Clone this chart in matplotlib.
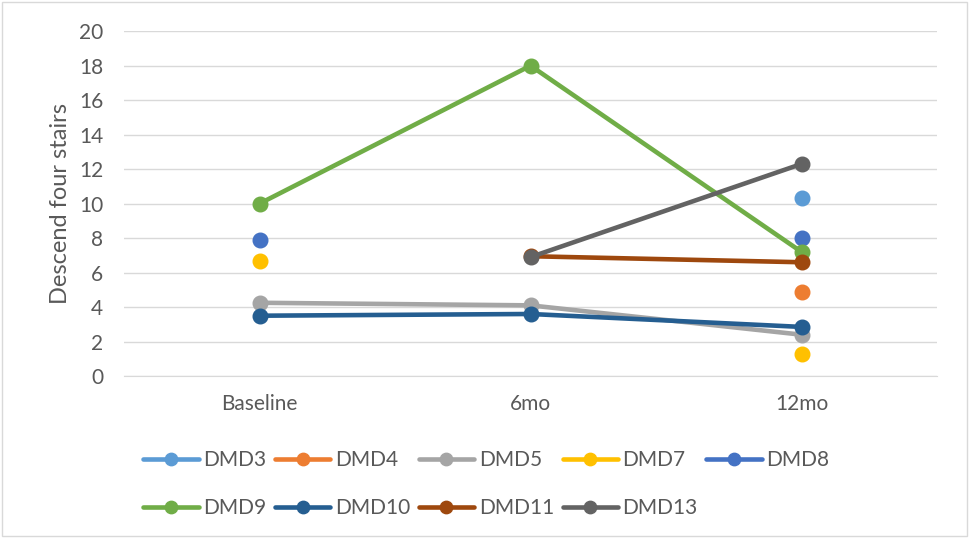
import numpy as np
import matplotlib.pyplot as plt
from matplotlib.patches import Rectangle

plt.rcParams['font.family'] = ['Lato', 'DejaVu Sans']

# data
visits = ['Baseline', '6mo', '12mo']
nan = np.nan
dmd3 = [nan, nan, 10.3]
dmd4 = [nan, nan, 4.9]
dmd5 = [4.25, 4.1, 2.4]
dmd7 = [6.7, nan, 1.3]
dmd8 = [7.9, nan, 8.0]
dmd9 = [10.0, 18.0, 7.2]
dmd10 = [3.5, 3.6, 2.85]
dmd11 = [nan, 6.95, 6.6]
dmd13 = [nan, 6.9, 12.3]

names = ['DMD3', 'DMD4', 'DMD5', 'DMD7', 'DMD8', 'DMD9', 'DMD10', 'DMD11', 'DMD13']
series = [dmd3, dmd4, dmd5, dmd7, dmd8, dmd9, dmd10, dmd11, dmd13]
colors = ['#5B9BD5', '#ED7D31', '#A5A5A5', '#FFC000', '#4472C4',
          '#70AD47', '#255E91', '#9E480E', '#636363']

txt = '#595959'

fig = plt.figure(figsize=(9.69, 5.38), dpi=100)
ax = fig.add_axes([0.128, 0.301, 0.839, 0.641])

x = np.arange(len(visits))
handles = []
for name, vals, c in zip(names, series, colors):
    h, = ax.plot(x, vals, color=c, lw=3.3, marker='o', ms=10.5,
                 solid_capstyle='round', label=name)
    handles.append(h)

ax.set_xlim(-0.5, 2.5)
ax.set_ylim(0, 20)
ax.set_yticks(range(0, 21, 2))
ax.set_xticks(x)
ax.set_xticklabels(visits)
ax.tick_params(axis='both', length=0, labelsize=15, labelcolor=txt)
ax.tick_params(axis='y', pad=15)
ax.tick_params(axis='x', pad=13)
ax.grid(axis='y', color='#D9D9D9', lw=1)
ax.set_axisbelow(True)
for s in ['top', 'right', 'left']:
    ax.spines[s].set_visible(False)
ax.spines['bottom'].set_color('#D9D9D9')
ax.set_ylabel('Descend four stairs', fontsize=17, color=txt, labelpad=6)

# legend row-major: 5 on first row, 4 on second
order = [0, 5, 1, 6, 2, 7, 3, 8, 4]
leg = fig.legend([handles[i] for i in order], [names[i] for i in order],
                 ncol=5, loc='upper left', bbox_to_anchor=(0.148, 0.163),
                 frameon=False, fontsize=15, handlelength=2.65,
                 handletextpad=0.22, columnspacing=0.42, labelspacing=1.35,
                 markerscale=0.85, borderaxespad=0, borderpad=0)
for t in leg.get_texts():
    t.set_color(txt)

fig.patches.append(Rectangle((0.002, 0.003), 0.996, 0.994, transform=fig.transFigure,
                             fill=False, edgecolor='#D9D9D9', lw=1))

fig.savefig('out.png', dpi=100)
